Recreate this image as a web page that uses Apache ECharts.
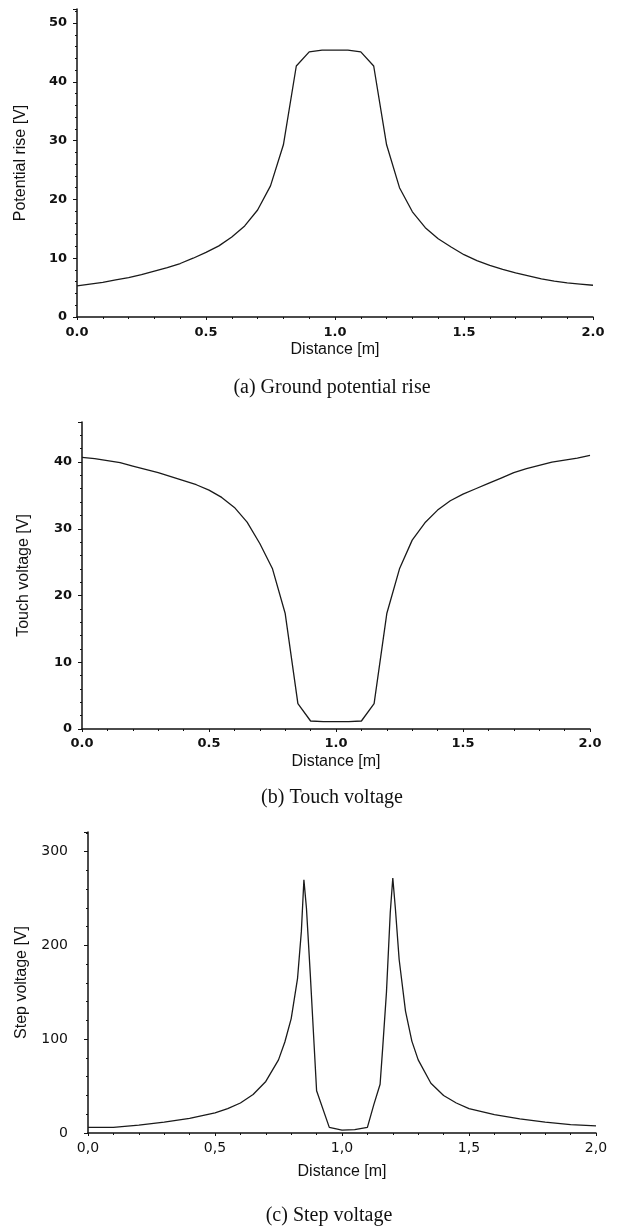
<!DOCTYPE html>
<html>
<head>
<meta charset="utf-8">
<script src="https://cdn.jsdelivr.net/npm/echarts@6/dist/echarts.min.js"></script>
<style>
html,body{margin:0;padding:0;background:#fff;}
#container{width:620px;height:1229px;}
</style>
</head>
<body>
<div id="container"></div>
<script>
// distance grid (m) used by (a) and (b)
var distGrid = [0.00,0.05,0.10,0.15,0.20,0.25,0.30,0.35,0.40,0.45,0.50,0.55,0.60,0.65,0.70,0.75,0.80,0.85,0.90,0.95,
	1.00,1.05,1.10,1.15,1.20,1.25,1.30,1.35,1.40,1.45,1.50,1.55,1.60,1.65,1.70,1.75,1.80,1.85,1.90,1.95,2.00];
// (a) ground potential rise [V]
var potentialRise = [5.3,5.6,5.9,6.3,6.7,7.2,7.8,8.4,9.1,10.0,11.0,12.1,13.6,15.5,18.2,22.3,29.3,42.7,45.1,45.4,
	45.4,45.4,45.1,42.7,29.3,22.0,17.9,15.2,13.3,11.9,10.6,9.6,8.8,8.1,7.5,7.0,6.5,6.1,5.8,5.6,5.4];
// (b) touch voltage [V]
var touchVoltage = [40.7,40.5,40.2,39.9,39.4,38.9,38.4,37.8,37.2,36.6,35.8,34.7,33.2,31.0,27.8,24.0,17.3,3.8,1.2,1.1,
	1.1,1.1,1.2,3.8,17.3,24.0,28.3,30.9,32.8,34.2,35.2,36.0,36.8,37.6,38.4,39.0,39.5,40.0,40.3,40.6,41.0];
// (c) step voltage, own sampling
var stepDist = [0.00,0.10,0.20,0.30,0.40,0.50,0.55,0.60,0.65,0.70,0.75,0.775,0.80,0.825,0.84,0.85,0.86,0.875,0.89,0.90,0.95,1.00,1.05,1.10,
	1.125,1.15,1.16,1.175,1.19,1.20,1.21,1.225,1.25,1.275,1.30,1.35,1.40,1.45,1.50,1.60,1.70,1.80,1.90,2.00];
var stepVoltage = [6,6,8.5,11.5,15.5,21.5,26,32,41,55,78,97,122,165,215,270,240,170,95,45,6,3,3.5,6,
	30,52,90,150,235,272,240,185,130,98,78,53,40,32,26,19.5,15,11.5,9,7.5];

var xTicks = [0,0.5,1.0,1.5,2.0];
var yTicksA = [0,10,20,30,40,50];
var yTicksB = [0,10,20,30,40];
var yTicksC = [0,100,200,300];

var captions = ['(a) Ground potential rise','(b) Touch voltage','(c) Step voltage'];

function pairs(xs,ys){
	var out = [];
	for(var i=0,k=xs.length;i<k;i++){
		out.push([xs[i],ys[i]]);
	}
	return out;
}

var myChart = echarts.init(document.getElementById('container'), null, {renderer:'canvas'});

var boldLbl = {fontFamily:'DejaVu Sans',fontWeight:'bold',fontSize:13,color:'#111'};
var thinLbl = {fontFamily:'DejaVu Sans',fontWeight:'normal',fontSize:14,color:'#111'};
var nameFont = {fontFamily:'Liberation Sans',fontSize:16,color:'#111'};
var axLine = {show:true,onZero:false,lineStyle:{color:'#111',width:1.5}};

function xAxisFor(idx,lbl,gap,labelMargin,comma){
	return {
		type:'value', gridIndex:idx, min:0, max:2, interval:0.5,
		name:'Distance [m]', nameLocation:'middle', nameGap:gap,
		nameTextStyle:nameFont,
		axisLine:axLine,
		axisTick:{show:true,length:3,lineStyle:{color:'#111'}},
		minorTick:{show:true,splitNumber:5,length:2,lineStyle:{color:'#111'}},
		splitLine:{show:false},
		axisLabel:Object.assign({margin:labelMargin,formatter:function(v){
			var s = v.toFixed(1);
			return comma ? s.replace('.',',') : s;
		}},lbl)
	};
}

function yAxisFor(idx,name,max,step,ticks,lbl,gap,labelMargin){
	return {
		type:'value', gridIndex:idx, min:0, max:max, interval:step,
		name:name, nameLocation:'middle', nameGap:gap, nameRotate:90,
		nameTextStyle:nameFont,
		axisLine:axLine,
		axisTick:{show:true,length:4,lineStyle:{color:'#111'}},
		minorTick:{show:true,splitNumber:5,length:2,lineStyle:{color:'#111'}},
		splitLine:{show:false},
		axisLabel:Object.assign({margin:labelMargin,showMaxLabel:ticks.indexOf(max)>=0,formatter:function(v){
			return ticks.indexOf(v)>=0 ? String(v) : '';
		}},lbl)
	};
}

function lineFor(idx,data){
	return {
		type:'line', xAxisIndex:idx, yAxisIndex:idx,
		data:data, showSymbol:false, smooth:false,
		lineStyle:{color:'#1a1a1a',width:1.3},
		silent:true, animation:false
	};
}

var option = {
	backgroundColor:'#fff',
	animation:false,
	title:[
		{text:captions[0],left:327,top:373,textAlign:'center',textStyle:{fontFamily:'Liberation Serif',fontWeight:'normal',fontSize:20,color:'#111'}},
		{text:captions[1],left:327,top:783,textAlign:'center',textStyle:{fontFamily:'Liberation Serif',fontWeight:'normal',fontSize:20,color:'#111'}},
		{text:captions[2],left:324,top:1201,textAlign:'center',textStyle:{fontFamily:'Liberation Serif',fontWeight:'normal',fontSize:20,color:'#111'}}
	],
	grid:[
		{left:77,right:27,top:9,height:308},
		{left:82,right:30,top:422,height:307},
		{left:88,right:24,top:832,height:301}
	],
	xAxis:[
		xAxisFor(0,boldLbl,25,9,false),
		xAxisFor(1,boldLbl,25,8,false),
		xAxisFor(2,thinLbl,31,8,true)
	],
	yAxis:[
		yAxisFor(0,'Potential rise [V]',52.4,10,yTicksA,boldLbl,48,10),
		yAxisFor(1,'Touch voltage [V]',46,10,yTicksB,boldLbl,50,10),
		yAxisFor(2,'Step voltage [V]',321,100,yTicksC,thinLbl,58,20)
	],
	series:[
		lineFor(0,pairs(distGrid,potentialRise)),
		lineFor(1,pairs(distGrid,touchVoltage)),
		lineFor(2,pairs(stepDist,stepVoltage))
	]
};
myChart.setOption(option);
</script>
</body>
</html>
